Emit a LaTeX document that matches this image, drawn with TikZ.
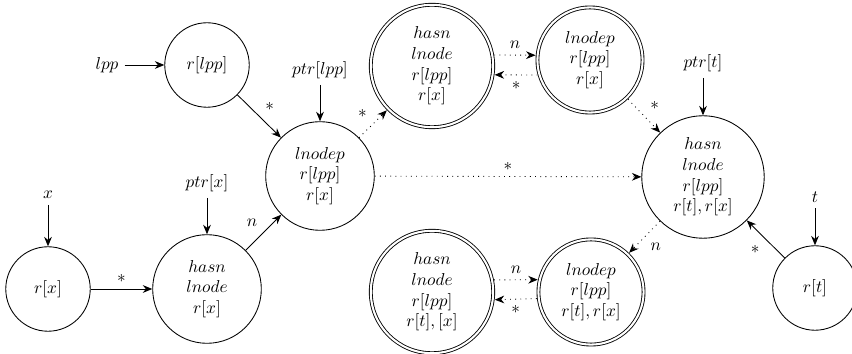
\documentclass[tikz,border=0pt]{standalone}
\usetikzlibrary{arrows.meta}

\begin{document}
\begin{tikzpicture}[x=0.58pt, y=-0.58pt, line width=0.5pt]
    \def\dsmall{49pt}
    \def\dmed{63pt}
    \def\dbig{71pt}
    \def\dring{61pt}
    \tikzset{
        cell/.style={circle, draw, inner sep=0pt, align=center, minimum size=#1},
        dcell/.style={cell=#1, double, double distance=1.2pt, outer sep=1.2pt},
        ptr/.style={-{Stealth[length=5.5pt, width=4.5pt]}},
        may/.style={ptr, dash pattern=on 0.5pt off 2.5pt}
    }
    \useasboundingbox (0,0) rectangle (852,354);

    % points-to cells
    \node[cell=\dsmall] (rlpp) at (207,65) {$r[lpp]$};
    \node[cell=\dmed] (lnp) at (320,176) {$lnodep$\\$r[lpp]$\\$r[x]$};
    \node[cell=\dsmall] (rx) at (48,289) {$r[x]$};
    \node[cell=\dmed] (hx) at (207,289) {$hasn$\\$lnode$\\$r[x]$};
    \node[dcell=\dbig] (tl) at (432,66) {$hasn$\\$lnode$\\$r[lpp]$\\$r[x]$};
    \node[dcell=\dring] (tr) at (590,60) {$lnodep$\\$r[lpp]$\\$r[x]$};
    \node[cell=\dbig] (big) at (703,177) {$hasn$\\$lnode$\\$r[lpp]$\\$r[t],r[x]$};
    \node[cell=\dsmall] (rt) at (815,288) {$r[t]$};
    \node[dcell=\dbig] (bl) at (432,292) {$hasn$\\$lnode$\\$r[lpp]$\\$r[t],[x]$};
    \node[dcell=\dring] (br) at (591,292) {$lnodep$\\$r[lpp]$\\$r[t],r[x]$};

    % variables
    \node (lpp) at (107,65) {$lpp$};
    \node (plpp) at (320,70) {$ptr[lpp]$};
    \node (x) at (48,195) {$x$};
    \node (px) at (207,183) {$ptr[x]$};
    \node (pt) at (703,63) {$ptr[t]$};
    \node (t) at (815,197) {$t$};

    \foreach \a/\b in {lpp/rlpp, plpp/lnp, x/rx, px/hx, pt/big, t/rt} {
        \draw[ptr] (\a) -- (\b);
    }

    % definite edges
    \draw[ptr] (rx) -- node[above] {$*$} (hx);
    \draw[ptr] (rlpp) -- node[above right] {$*$} (lnp);
    \draw[ptr] (hx) -- node[above left] {$n$} (lnp);
    \draw[ptr] (rt) -- node[below left] {$*$} (big);

    % possible edges
    \draw[may] (lnp) -- node[above left] {$*$} (tl);
    \draw[may] (lnp) -- node[above] {$*$} (big);
    \draw[may] (tr) -- node[above right] {$*$} (big);
    \draw[may] (big) -- node[below right] {$n$} (br);
    \draw[may] (tl.10) -- node[above] {$n$} (tr.175);
    \draw[may] (tr.196) -- node[below] {$*$} (tl.-8);
    \draw[may] (bl.11) -- node[above] {$n$} (br.167);
    \draw[may] (br.187) -- node[below] {$*$} (bl.-7);

\end{tikzpicture}
\end{document}
